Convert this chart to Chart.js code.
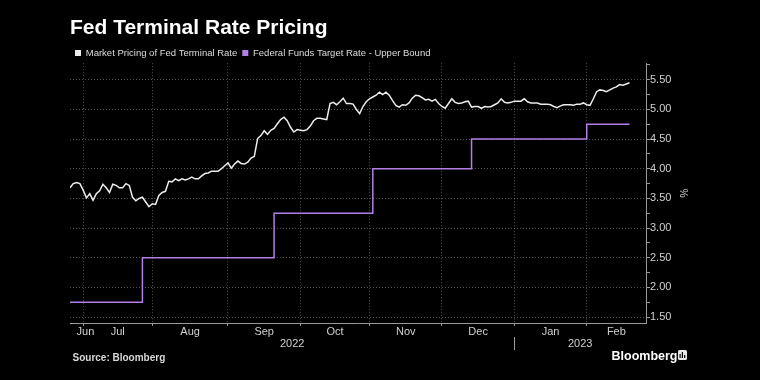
<!DOCTYPE html>
<html>
<head>
<meta charset="utf-8">
<title>Fed Terminal Rate Pricing</title>
<script src="https://cdn.jsdelivr.net/npm/chart.js"></script>
<style>
html,body{margin:0;padding:0;background:#000;overflow:hidden;}
canvas{display:block;}
</style>
</head>
<body>
<canvas id="chart" width="760" height="380"></canvas>
<script>
// ---------------- data ----------------
const seriesStart = '2022-06-27';
const axisEnd = '2023-02-27';
const seriesNames = ['Market Pricing of Fed Terminal Rate', 'Federal Funds Target Rate - Upper Bound'];

// Market pricing of the Fed terminal rate, one value per weekday from seriesStart
const terminalRate = [
  3.68, 3.75, 3.77, 3.75,
  3.64, 3.51, 3.58, 3.47, 3.58, 3.63, 3.74, 3.68, 3.60, 3.74,
  3.72, 3.68, 3.68, 3.75, 3.72, 3.52, 3.46, 3.50, 3.52, 3.44,
  3.36, 3.41, 3.40, 3.55, 3.60, 3.62, 3.79, 3.78, 3.83, 3.80,
  3.83, 3.81, 3.83, 3.86, 3.83, 3.83, 3.88, 3.92, 3.93, 3.96,
  3.96, 3.96, 4.00, 4.05, 4.10, 4.01, 4.08, 4.13, 4.09, 4.08,
  4.11, 4.18, 4.21, 4.51, 4.56, 4.64, 4.58, 4.65, 4.68, 4.76,
  4.83, 4.87, 4.81, 4.70, 4.62, 4.66, 4.65, 4.64, 4.66, 4.72,
  4.81, 4.85, 4.85, 4.84, 4.83, 5.10, 5.12, 5.08, 5.13, 5.19,
  5.10, 5.10, 5.09, 5.00, 4.93, 5.05, 5.13, 5.18, 5.21, 5.24,
  5.29, 5.25, 5.29, 5.24, 5.15, 5.07, 5.04, 5.08, 5.07, 5.11,
  5.19, 5.24, 5.23, 5.20, 5.16, 5.17, 5.14, 5.17, 5.10, 5.05,
  5.02, 5.10, 5.18, 5.12, 5.10, 5.11, 5.13, 5.14, 5.04, 5.05,
  5.05, 5.02, 5.05, 5.04, 5.05, 5.08, 5.11, 5.18, 5.12, 5.11,
  5.12, 5.14, 5.14, 5.14, 5.18, 5.13, 5.11, 5.11, 5.11, 5.09,
  5.09, 5.09, 5.08, 5.05, 5.03, 5.06, 5.08, 5.08, 5.08, 5.07,
  5.09, 5.09, 5.11, 5.08, 5.07, 5.18, 5.30, 5.33, 5.32, 5.30,
  5.33, 5.36, 5.38, 5.42, 5.41, 5.43, 5.45
];

// Federal funds target rate upper bound: change dates and levels
const fedDates = ['2022-06-27', '2022-07-27', '2022-09-21', '2022-11-02', '2022-12-14', '2023-02-01', '2023-02-20'];
const fedUpper = [1.75, 2.50, 3.25, 4.00, 4.50, 4.75, 4.75];

// axis labels
const monthStarts = ['2022-07-01', '2022-08-01', '2022-09-01', '2022-10-01', '2022-11-01', '2022-12-01', '2023-01-01', '2023-02-01'];
const monthNames = ['Jun', 'Jul', 'Aug', 'Sep', 'Oct', 'Nov', 'Dec', 'Jan', 'Feb'];
const yearStarts = ['2023-01-01'];
const yearNames = ['2022', '2023'];
const yMajor = [1.5, 2.0, 2.5, 3.0, 3.5, 4.0, 4.5, 5.0, 5.5];
const yMinor = [1.75, 2.25, 2.75, 3.25, 3.75, 4.25, 4.75, 5.25, 5.75];
const yRange = [1.40, 5.78];

// ---------------- weekday calendar (x axis is weekday-indexed) ----------------
const days = [];
for (let t = Date.parse(seriesStart + 'T00:00:00Z'); t <= Date.parse(axisEnd + 'T00:00:00Z'); t += 86400000) {
  const d = new Date(t);
  const w = d.getUTCDay();
  if (w !== 0 && w !== 6) days.push(d.toISOString().slice(0, 10));
}
const idxOf = s => { const i = days.findIndex(d => d >= s); return i < 0 ? days.length - 1 : i; };
const xMin = 0, xMax = days.length - 1;

const monthStartIdx = monthStarts.map(idxOf);
const mBounds = [xMin, ...monthStartIdx, xMax];
const monthLabelPos = monthNames.map((m, i) => (mBounds[i] + mBounds[i + 1]) / 2);
const xTickVals = [...monthLabelPos, ...monthStartIdx, xMax].sort((a, b) => a - b);
const yearStartIdx = yearStarts.map(idxOf);
const yBounds = [xMin, ...yearStartIdx, xMax];
const yearLabelPos = yearNames.map((y, i) => (yBounds[i] + yBounds[i + 1]) / 2);

const terminalPts = terminalRate.map((v, i) => ({ x: i, y: v }));
const fedPts = fedDates.map((d, i) => ({ x: idxOf(d), y: fedUpper[i] }));

// ---------------- styling ----------------
const FONT = '"Liberation Sans", Arial, sans-serif';
const GRID = 'rgba(255,255,255,0.32)';
const AXIS = '#9a9a9a';
const TXT = '#d0d0d0';
const WHITE_LINE = '#ececec';
const PURPLE = '#b47ee8';

Chart.defaults.font.family = FONT;

const footerPlugin = {
  id: 'footer',
  afterDraw(chart) {
    const ctx = chart.ctx;
    const ys = chart.scales.xYear;
    ctx.save();
    // year separator
    yearStartIdx.forEach(v => {
      const sx = Math.round(ys.getPixelForValue(v)) + 0.5;
      ctx.strokeStyle = AXIS;
      ctx.lineWidth = 1;
      ctx.beginPath();
      ctx.moveTo(sx, ys.top);
      ctx.lineTo(sx, ys.top + 13);
      ctx.stroke();
    });
    ctx.textBaseline = 'middle';
    ctx.textAlign = 'left';
    ctx.fillStyle = '#d8d8d8';
    ctx.font = 'bold 10px ' + FONT;
    ctx.fillText('Source: Bloomberg', 72.5, 358);
    ctx.fillStyle = '#ffffff';
    ctx.font = 'bold 12.5px ' + FONT;
    ctx.fillText('Bloomberg', 611.5, 357);
    // small logo mark
    ctx.fillStyle = '#e8e8e8';
    ctx.beginPath();
    ctx.roundRect ? ctx.roundRect(678, 350, 9, 10, 1.5) : ctx.rect(678, 350, 9, 10);
    ctx.fill();
    ctx.fillStyle = '#000';
    ctx.fillRect(679.5, 354, 1.2, 4);
    ctx.fillRect(681.8, 352, 1.2, 6);
    ctx.fillRect(684.1, 355, 1.2, 3);
    ctx.fillRect(680, 360, 3, 2);
    ctx.restore();
  }
};

new Chart(document.getElementById('chart'), {
  type: 'line',
  data: {
    datasets: [
      { label: seriesNames[0], data: terminalPts, borderColor: WHITE_LINE, backgroundColor: WHITE_LINE,
        borderWidth: 1.5, pointRadius: 0, tension: 0, xAxisID: 'x', yAxisID: 'y' },
      { label: seriesNames[1], data: fedPts, borderColor: PURPLE, backgroundColor: PURPLE,
        borderWidth: 1.5, pointRadius: 0, stepped: true, xAxisID: 'x', yAxisID: 'y' }
    ]
  },
  options: {
    responsive: false,
    animation: false,
    devicePixelRatio: 1,
    layout: { padding: { left: 70, right: 67, top: 0, bottom: 29 } },
    plugins: {
      tooltip: { enabled: false },
      title: {
        display: true, text: 'Fed Terminal Rate Pricing', align: 'start', color: '#ffffff',
        font: { size: 21, weight: 'bold', family: FONT }, padding: { top: 16, bottom: 2 }
      },
      legend: {
        display: true, position: 'top', align: 'start', maxHeight: 20,
        labels: {
          boxWidth: 6, boxHeight: 6, padding: 5, color: '#dcdcdc', font: { size: 9.5, family: FONT },
          generateLabels: (chart) => {
            const items = Chart.defaults.plugins.legend.labels.generateLabels(chart);
            items.forEach(it => { it.lineWidth = 0; it.fillStyle = it.strokeStyle; });
            return items;
          }
        }
      }
    },
    scales: {
      x: {
        type: 'linear', position: 'bottom', min: xMin, max: xMax, weight: 1,
        afterBuildTicks: s => { s.ticks = xTickVals.map(v => ({ value: v })); },
        afterFit: s => { s.height = 14; },
        grid: {
          color: c => (c.tick && monthStartIdx.includes(c.tick.value)) ? GRID : 'rgba(0,0,0,0)',
          tickColor: c => (c.tick && monthStartIdx.includes(c.tick.value)) ? AXIS : 'rgba(0,0,0,0)',
          tickLength: 3, lineWidth: 1
        },
        border: { display: true, color: AXIS, dash: [1, 2] },
        ticks: {
          autoSkip: false, maxRotation: 0, minRotation: 0, align: 'inner', padding: -1,
          color: TXT, font: { size: 11 },
          callback: v => { const k = monthLabelPos.indexOf(v); return k >= 0 ? monthNames[k] : ''; }
        }
      },
      xYear: {
        type: 'linear', position: 'bottom', min: xMin, max: xMax, weight: 2,
        afterBuildTicks: s => { s.ticks = yearLabelPos.map(v => ({ value: v })); },
        afterFit: s => { s.height = 14; },
        grid: { display: false, drawTicks: false },
        border: { display: false },
        ticks: {
          autoSkip: false, maxRotation: 0, minRotation: 0, padding: 0.5, color: TXT, font: { size: 11 },
          callback: (v, i) => yearNames[i]
        }
      },
      y: {
        type: 'linear', position: 'right', min: yRange[0], max: yRange[1],
        afterBuildTicks: s => { s.ticks = [...yMajor, ...yMinor].sort((a, b) => a - b).map(v => ({ value: v })); },
        afterFit: s => { s.width = 47; },
        grid: {
          color: c => (c.tick && yMajor.includes(c.tick.value)) ? GRID : 'rgba(0,0,0,0)',
          tickColor: AXIS, tickLength: 4, lineWidth: 1
        },
        border: { display: true, color: AXIS, dash: [1, 2] },
        ticks: {
          autoSkip: false, padding: 0, color: TXT, font: { size: 11 },
          callback: v => yMajor.includes(v) ? v.toFixed(2) : ''
        },
        title: { display: true, text: '%', color: TXT, font: { size: 10 }, padding: { top: 4, bottom: 0 } }
      }
    }
  },
  plugins: [footerPlugin]
});
</script>
</body>
</html>
